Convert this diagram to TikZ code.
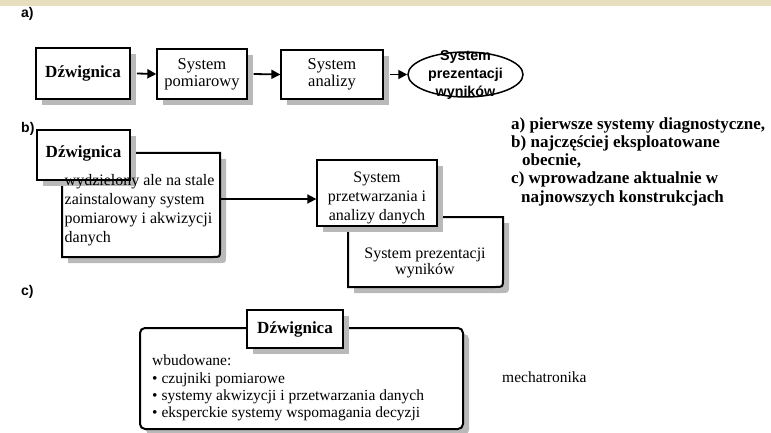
\documentclass[tikz,border=0pt]{standalone}
\usepackage{fontspec}
\setmainfont{Liberation Serif}
\newfontfamily\arialf{Liberation Sans}
\usetikzlibrary{arrows.meta,shadows,shapes.geometric}
\definecolor{beige}{RGB}{230,222,188}
\begin{document}
\begin{tikzpicture}[x=1pt,y=-1pt,
  shadowfill/.style={fill=gray!55,draw=none},
  sbox/.style={draw, fill=white, line width=1.5pt, inner sep=0pt,
    general shadow={fill=gray!55, shadow xshift=6pt, shadow yshift=-6pt}},
  arr/.style={line width=1.8pt, -{Triangle[length=9pt,width=9pt]}},
  sectlabel/.style={font=\arialf\bfseries\fontsize{14}{15}\selectfont, anchor=west, inner sep=0pt},
  sertxt/.style={font=\fontsize{16}{19}\selectfont, inner sep=0pt},
  bold16/.style={font=\bfseries\fontsize{17}{19}\selectfont, inner sep=0pt},
  ellt/.style={font=\arialf\bfseries\fontsize{14.3}{18}\selectfont, inner sep=0pt, align=center},
]
\useasboundingbox (0,0) rectangle (771,433);
\fill[beige] (0,0) rectangle (771,6);

% ---------------- a)
\node[sectlabel] (la) at (21,14) {a)};
\node[sbox, line width=1.8pt, minimum width=94pt, minimum height=51pt] (a1) at (83,73.5) {};
\node[bold16] (a1t) at (a1.center) {Dźwignica};
\node[sbox, line width=1.3pt, minimum width=90pt, minimum height=50pt] (a2) at (202,74) {};
\node[sertxt, align=center, font=\fontsize{16.5}{17}\selectfont] (a2t) at (202,74) {System\\pomiarowy};
\node[sbox, line width=1.3pt, minimum width=102pt, minimum height=49pt] (a3) at (332,74.5) {};
\node[sertxt, align=center, font=\fontsize{16.5}{17}\selectfont] (a3t) at (332,74) {System\\analizy};
\node[ellipse, draw, line width=1.5pt, fill=white, inner sep=0pt, minimum width=115pt, minimum height=45pt] (ae) at (465.5,74.5) {};
\node[ellt] (aet) at (ae.center) {System\\prezentacji\\wyników};
\draw[arr] ([xshift=6pt]a1.east) -- (a2.west);
\draw[arr] ([xshift=6pt]a2.east) -- (a3.west);
\draw[arr] ([xshift=6pt]a3.east) -- (ae.west);

% ---------------- b)
\node[sectlabel] (lb) at (21,129) {b)};
% big box behind
\fill[shadowfill] (68,159) -- (226,159) -- (226,256) .. controls (226,263) .. (219,263) -- (68,263) -- cycle;
\draw[line width=2pt, fill=white] (62,153) -- (220,153) -- (220,250) .. controls (220,257) .. (213,257) -- (62,257) -- cycle;
\node[inner sep=0pt, minimum width=158pt, minimum height=104pt] (bb) at (141,205) {};
\node[sbox, line width=1.3pt, minimum width=93pt, minimum height=50pt] (b1) at (83.5,155) {};
\node[bold16] (b1t) at (83.5,153) {Dźwignica};
\node[sertxt, align=left, anchor=west] (bbt) at (64.5,210) {wydzielony ale na stale\\zainstalowany system\\pomiarowy i akwizycji\\danych};
% presentation box behind
\fill[shadowfill] (354,223) -- (509,223) -- (509,285) .. controls (509,293) .. (501,293) -- (354,293) -- cycle;
\draw[line width=2pt, fill=white] (348,217) -- (503,217) -- (503,279) .. controls (503,287) .. (495,287) -- (348,287) -- cycle;
\node[inner sep=0pt, minimum width=155pt, minimum height=70pt] (b3) at (425.5,252) {};
\node[sertxt, align=center, font=\fontsize{16}{16.5}\selectfont] (b3t) at (425,263) {System prezentacji\\wyników};
\node[sbox, line width=1.3pt, minimum width=120pt, minimum height=66pt] (b2) at (377,193) {};
\node[sertxt, align=center] (b2t) at (377,197.5) {System\\przetwarzania i\\analizy danych};
\coordinate (by) at (0,199);
\draw[arr] (bb.east |- by) -- (b2.west |- by);

% legend
\node[font=\bfseries\fontsize{17}{18.25}\selectfont, inner sep=0pt, align=left, anchor=west] (leg) at (511,161.5)
 {a) pierwsze systemy diagnostyczne,\\b) najczęściej eksploatowane\\\hspace*{11pt}obecnie,\\c) wprowadzane aktualnie w\\\hspace*{10pt}najnowszych konstrukcjach};

% ---------------- c)
\node[sectlabel] (lc) at (21,292) {c)};
\node[sbox, line width=2pt, rounded corners=5pt, minimum width=323pt, minimum height=101pt] (cb) at (301.5,378.5) {};
\node[sbox, line width=1.3pt, minimum width=96pt, minimum height=38pt] (c1) at (295,329) {};
\node[bold16] (c1t) at (c1.center) {Dźwignica};
\node[sertxt, align=left, anchor=west, font=\fontsize{15.5}{17.3}\selectfont] (cbt) at (152,388)
 {wbudowane:\\• czujniki pomiarowe\\• systemy akwizycji i przetwarzania danych\\• eksperckie systemy wspomagania decyzji};
\node[sertxt, anchor=west, font=\fontsize{15.5}{17}\selectfont] (mech) at (502,377) {mechatronika};
\end{tikzpicture}
\end{document}
